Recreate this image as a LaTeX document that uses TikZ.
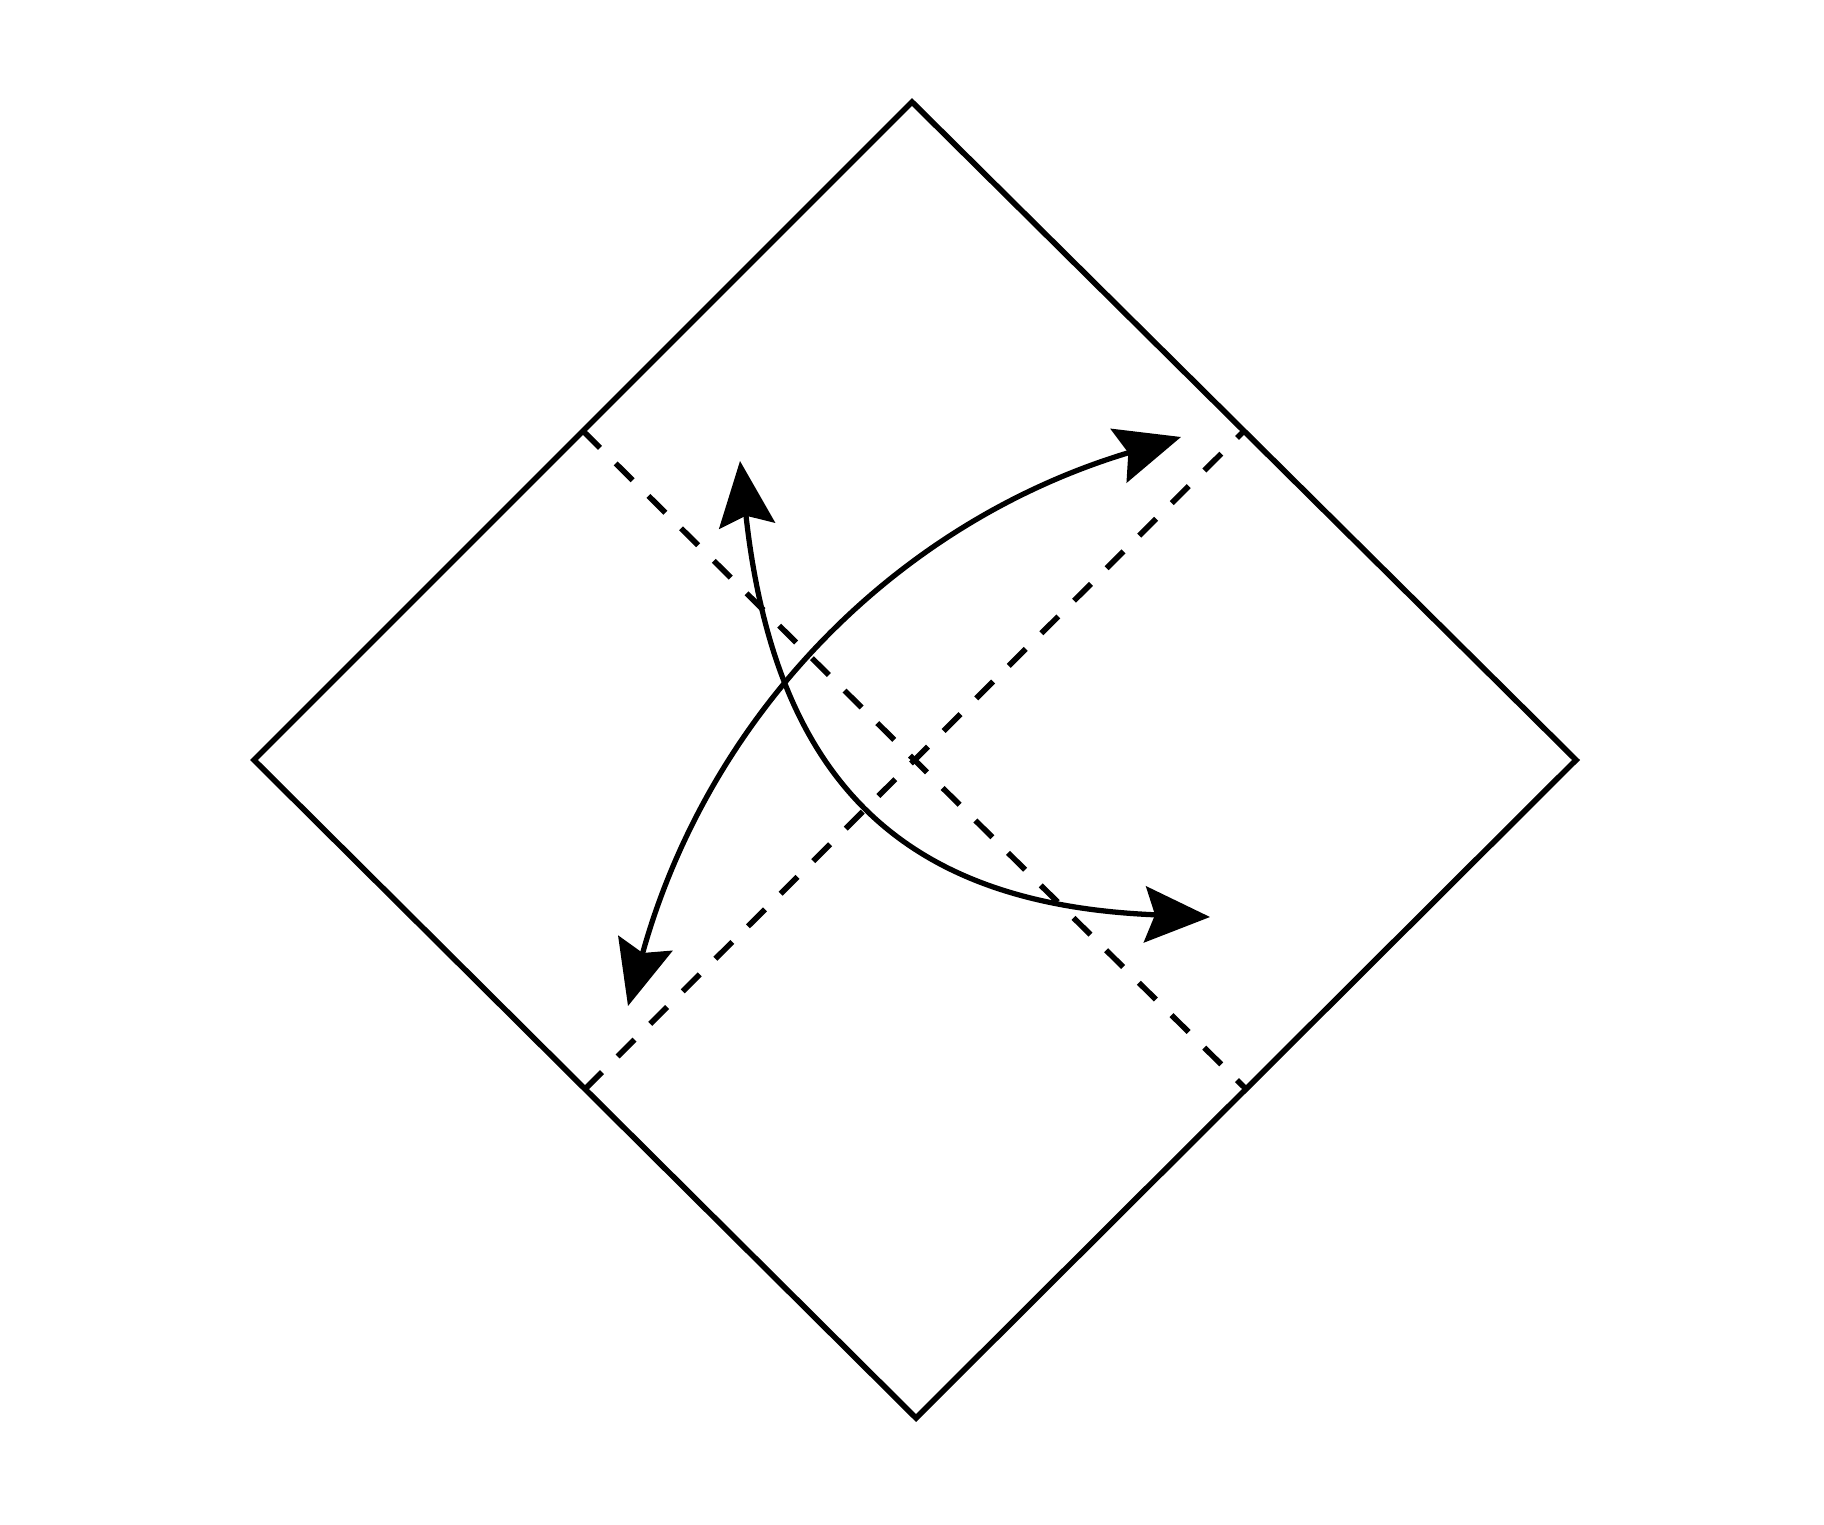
\documentclass[tikz,border=0pt]{standalone}
\usetikzlibrary{arrows.meta}
\usetikzlibrary{calc}

\begin{document}
\begin{tikzpicture}[
  x=0.01cm, y=-0.01cm,
	paper/.style={
	draw,
	line width=1.6pt,
	line join=miter},
	fold/.style={
	draw,
	dash pattern=on 6.8pt off 6.3pt,
	line width=1.6pt},
	swing/.style={
	draw,
	line width=1.5pt,
	{Stealth[length=0.65cm, width=0.56cm, inset=0.1cm]}-{Stealth[length=0.65cm, width=0.56cm, inset=0.1cm]}
	}]

	% Frame
	\useasboundingbox (0,0) rectangle (1824,1524);

	% Paper corners
	\coordinate (ptop)    at (912,102);
	\coordinate (pleft)   at (254,760);
	\coordinate (pbottom) at (916,1418);
	\coordinate (pright)  at (1576,760);

	% Edge midpoints
	\coordinate (mtl) at ($(ptop)!0.5!(pleft)$);
	\coordinate (mtr) at ($(ptop)!0.5!(pright)$);
	\coordinate (mbl) at ($(pbottom)!0.5!(pleft)$);
	\coordinate (mbr) at ($(pbottom)!0.5!(pright)$);

	% Arrow ends
	\coordinate (aend1) at (628,1006);
	\coordinate (aend2) at (1181,437);
	\coordinate (bend1) at (740,461);
	\coordinate (bend2) at (1210,917);

	% Paper
	\draw[paper] (ptop) -- (pleft) -- (pbottom) -- (pright) -- cycle;

	% Folds
	\draw[fold] (mtl) -- (mbr);
	\draw[fold] (mbl) -- (mtr);

	% Turns
	\draw[swing] (aend1) .. controls (708,717) and (894,523) .. (aend2);
	\draw[swing] (bend1) .. controls (776,789) and (910,905) .. (bend2);

\end{tikzpicture}
\end{document}
